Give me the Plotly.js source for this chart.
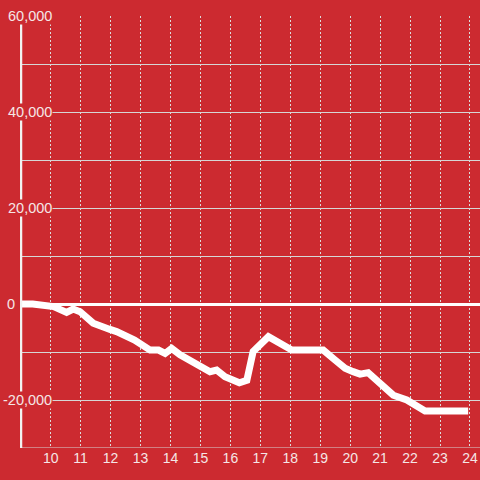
<!DOCTYPE html>
<html>
<head>
<meta charset="utf-8">
<script src="https://cdn.plot.ly/plotly-3.0.1.min.js"></script>
<style>
html,body{margin:0;padding:0;background:#cc2a30;}
#chart{width:480px;height:480px;}
</style>
</head>
<body>
<div id="chart"></div>
<script>
// Data
const hours = [9, 9.4, 10.1, 10.25, 10.53, 10.75, 10.98, 11.42, 11.7, 11.98, 12.2, 12.54, 12.8, 13.32, 13.6, 13.82, 14.04, 14.32, 14.76, 15.32, 15.54, 15.82, 16.3, 16.55, 16.76, 16.99, 17.27, 18.05, 19.1, 19.49, 19.83, 20.1, 20.33, 20.6, 21.0, 21.44, 21.89, 22.16, 22.5, 23.94];
const values = [0, 0, -550, -900, -1750, -1050, -1600, -4000, -4850, -5300, -5750, -6600, -7500, -9600, -9600, -10300, -9250, -10600, -12000, -14100, -13750, -15150, -16400, -15900, -9900, -8550, -6800, -9600, -9600, -11650, -13400, -14100, -14600, -14300, -16500, -19000, -20000, -21050, -22300, -22300];
const xTicks = [10, 11, 12, 13, 14, 15, 16, 17, 18, 19, 20, 21, 22, 23, 24];
const yTickVals = [60000, 40000, 20000, 0, -20000];
const yTickText = ['60,000', '40,000', '20,000', '0', '-20,000'];
const yMin = -30000;
const yMax = 60000;

const BG = '#cc2a30';
const TXT = '#f5e6e6';
const GRID = '#d6d6d6';
const FONT = 'Liberation Sans, Arial, sans-serif';

const trace = {
  x: hours, y: values, type: 'scatter', mode: 'lines',
  line: {color: '#ffffff', width: 7, shape: 'linear'},
  hoverinfo: 'skip'
};

const annotations = yTickVals.map((v, i) => ({
  xref: 'paper', yref: 'y', x: 0, y: v, xshift: v === 0 ? -4 : 33,
  xanchor: 'right', yanchor: 'middle',
  text: yTickText[i], showarrow: false,
  font: {family: FONT, size: 14.5, color: TXT},
  bgcolor: BG, borderpad: 0
}));

const layout = {
  width: 480, height: 480,
  paper_bgcolor: BG, plot_bgcolor: BG,
  margin: {l: 20, r: 0, t: 16, b: 32},
  showlegend: false,
  font: {family: FONT, size: 14, color: TXT},
  xaxis: {
    range: [8.975, 24.335],
    tickvals: xTicks, ticktext: xTicks.map(String),
    showgrid: true, gridcolor: '#dcdcdc', gridwidth: 1, griddash: '2px,2px',
    zeroline: false, showline: false, ticks: '',
    tickfont: {family: FONT, size: 14, color: TXT}
  },
  yaxis: {
    range: [yMin, yMax],
    dtick: 10000, tick0: 0,
    showgrid: true, gridcolor: GRID, gridwidth: 1,
    zeroline: true, zerolinecolor: '#ffffff', zerolinewidth: 3,
    showline: false, ticks: '', showticklabels: false
  },
  shapes: [
    {type: 'line', xref: 'paper', yref: 'y', x0: 0, x1: 1, y0: yMin, y1: yMin,
     line: {color: GRID, width: 1}, layer: 'below'},
    {type: 'line', xref: 'x', yref: 'paper', x0: 9, x1: 9, y0: 0, y1: 1,
     line: {color: '#f2f2f2', width: 3}, layer: 'above'}
  ],
  annotations: annotations
};

Plotly.newPlot('chart', [trace], layout, {displayModeBar: false, staticPlot: true});
</script>
</body>
</html>
